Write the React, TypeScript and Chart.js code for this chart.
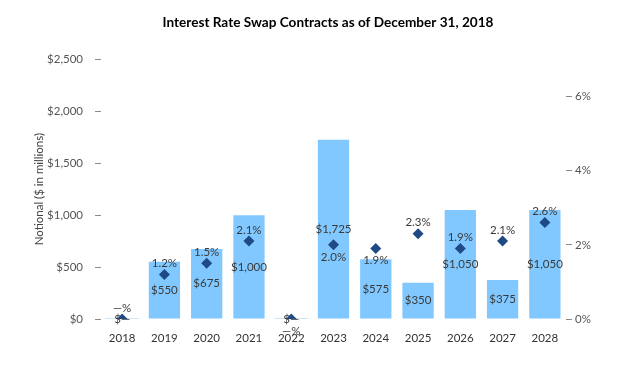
import React, { useEffect, useRef } from "react";
import { Chart, registerables } from "chart.js";

Chart.register(...registerables);

const years = ["2018", "2019", "2020", "2021", "2022", "2023", "2024", "2025", "2026", "2027", "2028"];
const notional = [0, 550, 675, 1000, 0, 1725, 575, 350, 1050, 375, 1050];
const rates = [0, 1.2, 1.5, 2.1, 0, 2.0, 1.9, 2.3, 1.9, 2.1, 2.6];
const rateTicks = [0, 2, 4, 6];
const rateLabelBelow = ["2022", "2023", "2024"];

const FONT = "Lato, 'Open Sans', sans-serif";

const labelPlugin = {
  id: "valueLabels",
  afterDatasetDraw(chart: any, args: any) {
    const ctx = chart.ctx;
    const meta = args.meta;
    ctx.save();
    ctx.font = `11.5px ${FONT}`;
    ctx.fillStyle = "#3a3a3a";
    ctx.textAlign = "center";
    ctx.textBaseline = "middle";
    if (args.index === 0) {
      meta.data.forEach((el: any, i: number) => {
        const v = notional[i];
        if (v === 0) {
          ctx.save();
          ctx.strokeStyle = "#cfe6f8";
          ctx.lineWidth = 1;
          ctx.beginPath();
          ctx.moveTo(el.x - 17, el.base - 0.5);
          ctx.lineTo(el.x + 17, el.base - 0.5);
          ctx.stroke();
          ctx.restore();
        }
        const txt = v === 0 ? "$—" : "$" + v.toLocaleString("en-US");
        const y = v === 0 ? el.base : (el.y + el.base) / 2;
        ctx.fillText(txt, el.x, y);
      });
    } else if (args.index === 1) {
      meta.data.forEach((el: any, i: number) => {
        const v = rates[i];
        const txt = v === 0 ? "—%" : v.toFixed(1) + "%";
        const below = rateLabelBelow.includes(years[i]);
        ctx.fillText(txt, el.x, el.y + (below ? 12 : -11));
      });
    }
    ctx.restore();
  },
};

export default function App() {
  const ref = useRef<HTMLCanvasElement>(null);
  useEffect(() => {
    if (!ref.current) return;
    const chart = new Chart(ref.current, {
      type: "bar",
      data: {
        labels: years,
        datasets: [
          {
            type: "bar",
            label: "Notional",
            data: notional,
            backgroundColor: "#80C8FF",
            categoryPercentage: 1,
            barPercentage: 0.74,
            yAxisID: "y",
            order: 1,
          } as any,
          {
            type: "line",
            label: "Rate",
            data: rates,
            showLine: false,
            pointStyle: "rectRot",
            pointRadius: 5.5,
            backgroundColor: "#1F4A85",
            borderColor: "#1F4A85",
            borderWidth: 0,
            yAxisID: "y1",
            order: 0,
          } as any,
        ],
      },
      options: {
        animation: false,
        responsive: false,
        maintainAspectRatio: false,
        layout: { padding: { left: 32 } },
        plugins: {
          legend: { display: false },
          tooltip: { enabled: false },
          title: {
            display: true,
            text: "Interest Rate Swap Contracts as of December 31, 2018",
            color: "#000",
            font: { family: FONT, size: 13.6, weight: "bold" },
            padding: { top: 14, bottom: 29 },
          },
        },
        scales: {
          x: {
            grid: { display: false, drawTicks: false },
            border: { display: false },
            ticks: { color: "#333", font: { family: FONT, size: 11.5 }, padding: 12 },
            afterFit: (s: any) => { s.height = 47; },
          },
          y: {
            position: "left",
            min: 0,
            max: 2500,
            ticks: {
              stepSize: 500,
              color: "#555",
              font: { family: FONT, size: 11.5 },
              padding: 12,
              callback: (v: any) => "$" + Number(v).toLocaleString("en-US"),
            },
            grid: { drawOnChartArea: false, drawTicks: true, tickLength: 6, color: "#888" },
            border: { display: false },
            title: {
              display: true,
              text: "Notional ($ in millions)",
              color: "#444",
              font: { family: FONT, size: 11.5 },
              padding: { top: 0, bottom: 0 },
            },
            afterFit: (s: any) => { s.width = 69; },
          },
          y1: {
            position: "right",
            min: 0,
            max: 7,
            afterBuildTicks: (s: any) => {
              s.ticks = rateTicks.map((v) => ({ value: v }));
            },
            ticks: {
              color: "#555",
              font: { family: FONT, size: 11.5 },
              padding: 3,
              callback: (v: any) => v + "%",
            },
            grid: { drawOnChartArea: false, drawTicks: true, tickLength: 6, color: "#888" },
            border: { display: false },
            afterFit: (s: any) => { s.width = 58; },
          },
        },
      },
      plugins: [labelPlugin],
    });
    return () => chart.destroy();
  }, []);
  return (
    <div style={{ position: "fixed", left: 0, top: 0, width: 624, height: 366, background: "#fff" }}>
      <canvas ref={ref} width={624} height={366} style={{ width: 624, height: 366 }} />
    </div>
  );
}
